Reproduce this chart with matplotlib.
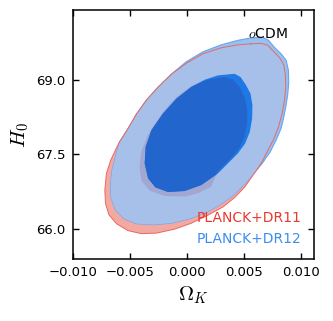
import matplotlib
matplotlib.use("Agg")
import matplotlib.pyplot as plt

# contour outlines (Omega_K, H0)
# shared upper-left edge of both 95% contours
edge_x = [-0.00590, -0.00515, -0.00442, -0.00355, -0.00253, -0.00137]
edge_y = [67.75, 68.02, 68.31, 68.59, 68.85, 69.11]

dr11_95_x = [0.00561, 0.00648, 0.00706, 0.00764, 0.00817, 0.00846, 0.00860, 0.00863, 0.00852, 0.00831,
             0.00799, 0.00756, 0.00700, 0.00648, 0.00579, 0.00506, 0.00419, 0.00317, 0.00174, 0.00038,
             -0.00108, -0.00268, -0.00399, -0.00515, -0.00617, -0.00683, -0.00713, -0.00718, -0.00704,
             -0.00666, -0.00625] + edge_x + [-0.00006, 0.00139, 0.00299, 0.00445]
dr11_95_y = [69.72, 69.73, 69.69, 69.55, 69.42, 69.29, 69.09, 68.85, 68.59, 68.32,
             68.05, 67.80, 67.55, 67.32, 67.09, 66.85, 66.64, 66.45, 66.27, 66.12,
             66.00, 65.92, 65.91, 65.97, 66.11, 66.29, 66.52, 66.79, 67.12,
             67.39, 67.59] + edge_y + [69.33, 69.52, 69.64, 69.70]

dr12_95_x = [0.00561, 0.00663, 0.00712, 0.00764, 0.00822, 0.00866, 0.00886, 0.00889, 0.00881, 0.00866,
             0.00846, 0.00822, 0.00779, 0.00727, 0.00660, 0.00585, 0.00505, 0.00410, 0.00295, 0.00165,
             0.00023, -0.00137, -0.00297, -0.00442, -0.00550, -0.00625, -0.00663, -0.00669, -0.00654,
             -0.00625] + edge_x + [-0.00006, 0.00139, 0.00299, 0.00445]
dr12_95_y = [69.84, 69.85, 69.79, 69.65, 69.52, 69.39, 69.19, 68.95, 68.72, 68.49,
             68.25, 68.02, 67.79, 67.55, 67.33, 67.12, 66.91, 66.69, 66.50, 66.33,
             66.21, 66.12, 66.09, 66.11, 66.21, 66.39, 66.62, 66.89, 67.19,
             67.45] + edge_y + [69.36, 69.56, 69.70, 69.79]

dr11_68_x = [0.00183, 0.00328, 0.00401, 0.00459, 0.00502, 0.00526, 0.00526, 0.00502, 0.00459, 0.00380,
             0.00270, 0.00212, 0.00096, -0.00021, -0.00195, -0.00326, -0.00399, -0.00416, -0.00400,
             -0.00350, -0.00300, -0.00210, -0.00093, 0.00037]
dr11_68_y = [68.999, 69.053, 69.006, 68.853, 68.653, 68.386, 68.119, 67.853, 67.639, 67.413,
             67.166, 66.853, 66.719, 66.653, 66.666, 66.773, 66.973, 67.253, 67.553,
             67.853, 68.053, 68.353, 68.653, 68.873]

dr12_68_x = [0.00270, 0.00415, 0.00468, 0.00517, 0.00555, 0.00572, 0.00569, 0.00549, 0.00508, 0.00444,
             0.00372, 0.00270, 0.00125, -0.00021, -0.00166, -0.00276, -0.00340, -0.00370, -0.00361,
             -0.00311, -0.00210, -0.00093, 0.00037, 0.00154]
dr12_68_y = [69.086, 69.119, 69.053, 68.886, 68.720, 68.486, 68.219, 67.953, 67.719, 67.519,
             67.353, 67.119, 66.886, 66.766, 66.746, 66.839, 67.019, 67.319, 67.653,
             67.986, 68.319, 68.619, 68.853, 68.999]

xticks = [-0.010, -0.005, 0.000, 0.005, 0.010]
yticks = [66.0, 67.5, 69.0]

plt.rcParams['mathtext.fontset'] = 'cm'

fig = plt.figure(figsize=(3.33, 3.21), dpi=100)
ax = fig.add_axes([0.218, 0.193, 0.725, 0.776])

# red 95% (outer)
red95 = ax.fill(dr11_95_x, dr11_95_y, color='#f2a9a2', lw=0, zorder=1)[0]
# blue 95%
blue95 = ax.fill(dr12_95_x, dr12_95_y, color='#97c1f2', ec='#6aa4ec', lw=0.8, zorder=2)[0]
# overlap of both 95% regions
ov = ax.fill(dr11_95_x, dr11_95_y, color='#a7c0ea', lw=0, zorder=3)[0]
ov.set_clip_path(blue95)
# red 68% seen through blue 95%
r68 = ax.fill(dr11_68_x, dr11_68_y, color='#a2a7d2', lw=0, zorder=4)[0]
# blue 68%
b68 = ax.fill(dr12_68_x, dr12_68_y, color='#1e78e6', lw=0, zorder=5)[0]
ov2 = ax.fill(dr11_68_x, dr11_68_y, color='#2265cc', lw=0, zorder=6)[0]
ov2.set_clip_path(b68)
# red outer edge line
ax.plot(dr11_95_x + dr11_95_x[:1], dr11_95_y + dr11_95_y[:1], color='#e8695f', lw=0.7, zorder=7)

ax.set_xlim(-0.010, 0.0111)
ax.set_ylim(65.4, 70.4)
ax.set_xticks(xticks)
ax.set_yticks(yticks)
ax.set_xticklabels([('%.3f' % v).replace('-', '\u2212') if v != 0 else '0.000' for v in xticks])
ax.set_yticklabels(['%.1f' % v for v in yticks])
ax.tick_params(direction='in', top=True, right=True, length=4, width=1, labelsize=9.5, pad=5)
for s in ax.spines.values():
    s.set_linewidth(1.1)

ax.set_xlabel(r'$\Omega_K$', fontsize=15, labelpad=4)
ax.set_ylabel(r'$H_0$', fontsize=15, labelpad=4)

ax.text(0.892, 0.904, r'$o$CDM', transform=ax.transAxes, ha='right', va='center', fontsize=10, zorder=10)
ax.text(0.947, 0.165, 'PLANCK+DR11', color='#e8392f', transform=ax.transAxes, ha='right', va='center', fontsize=10, zorder=10)
ax.text(0.947, 0.079, 'PLANCK+DR12', color='#3b8ded', transform=ax.transAxes, ha='right', va='center', fontsize=10, zorder=10)

fig.savefig('out.png', dpi=100)
